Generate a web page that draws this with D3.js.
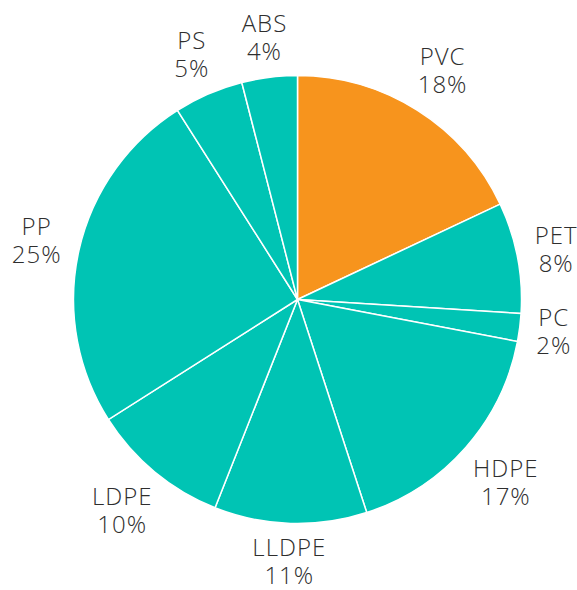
<!DOCTYPE html>
<html>
<head>
<meta charset="utf-8">
<script src="https://cdn.jsdelivr.net/npm/d3@7"></script>
<style>
  html, body { margin: 0; padding: 0; background: #fff; }
  text { font-family: "Open Sans", sans-serif; font-weight: 300; fill: #2e2e2e; letter-spacing: 1px; }
</style>
</head>
<body>
<script>
const materials = ['PVC', 'PET', 'PC', 'HDPE', 'LLDPE', 'LDPE', 'PP', 'PS', 'ABS'];
const shares = [18, 8, 2, 17, 11, 10, 25, 5, 4];
const highlight = 'PVC';

const width = 577,
    height = 590,
    cx = 297.5,
    cy = 299.5,
    radius = 224,
    labelGap = 238,
    lineHeight = 28;

const data = materials.map((m, i) => ({name: m, value: shares[i]}));

const color = d => d.data.name === highlight ? '#F7941D' : '#00C4B4';

const pie = d3.pie()
  .value(d => d.value)
  .sort(null);

const arc = d3.arc()
  .innerRadius(0)
  .outerRadius(radius);

const svg = d3.select('body')
  .append('svg')
    .attr('width', width)
    .attr('height', height)
  .append('g')
    .attr('transform', 'translate(' + cx + ',' + cy + ')');

const arcs = pie(data);

svg.selectAll('.slice')
    .data(arcs)
  .enter().append('path')
    .attr('class', 'slice')
    .attr('d', arc)
    .attr('fill', color)
    .attr('stroke', '#fff')
    .attr('stroke-width', 1.5);

const label = svg.selectAll('.label')
    .data(arcs)
  .enter().append('g')
    .attr('class', 'label');

label.append('text')
    .attr('class', 'l1')
    .attr('text-anchor', 'middle')
    .style('font-size', '24px')
    .text(d => d.data.name);

label.append('text')
    .attr('class', 'l2')
    .attr('text-anchor', 'middle')
    .style('font-size', '24px')
    .text(d => d.data.value + '%');

// place each label box just outside the pie, along the slice's mid angle
label.each(function(d) {
  const g = d3.select(this);
  const w = Math.max(
    g.select('.l1').node().getComputedTextLength(),
    g.select('.l2').node().getComputedTextLength());
  const h = 46;
  const a = (d.startAngle + d.endAngle) / 2;
  const s = Math.sin(a), c = -Math.cos(a);
  const t = labelGap + w / 2 * Math.abs(s) + h / 2 * Math.abs(c);
  const x = t * s, y = t * c;
  g.select('.l1').attr('x', x).attr('y', y - 6);
  g.select('.l2').attr('x', x).attr('y', y - 6 + lineHeight);
});
</script>
</body>
</html>
